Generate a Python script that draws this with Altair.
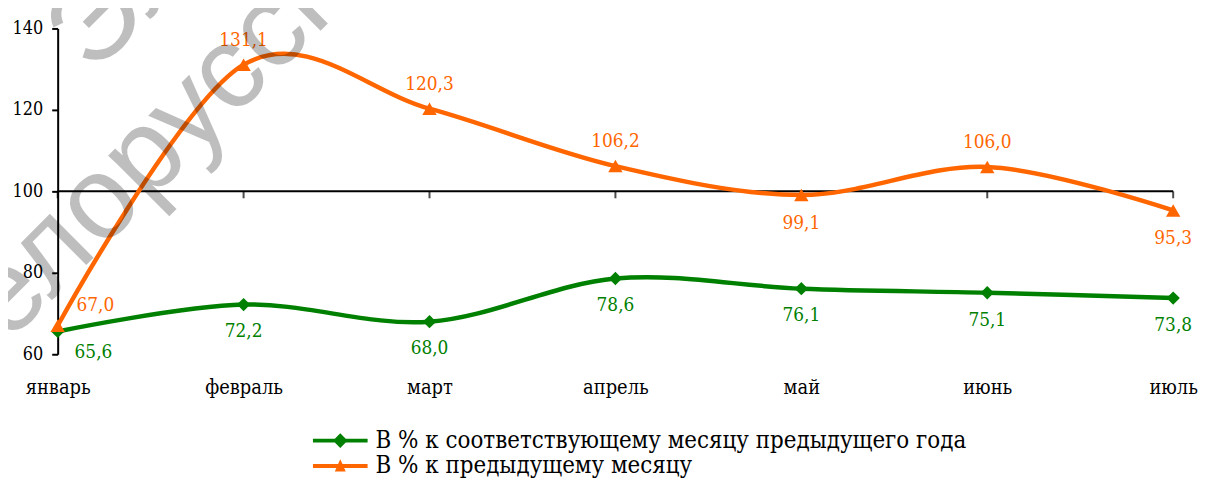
import altair as alt
import pandas as pd

months = ["январь", "февраль", "март", "апрель", "май", "июнь", "июль"]
yoy_values = [65.6, 72.2, 68.0, 78.6, 76.1, 75.1, 73.8]
mom_values = [67.0, 131.1, 120.3, 106.2, 99.1, 106.0, 95.3]
y_ticks = [60, 80, 100, 120, 140]
series_yoy = "В % к соответствующему месяцу предыдущего года"
series_mom = "В % к предыдущему месяцу"

GREEN = "#008000"
ORANGE = "#FF6600"
FONT = "DejaVu Serif Condensed, DejaVu Serif"


def fmt(v):
    return f"{v:.1f}".replace(".", ",")


df_yoy = pd.DataFrame({"month": months, "value": yoy_values,
                       "label": [fmt(v) for v in yoy_values]})
df_mom = pd.DataFrame({"month": months, "value": mom_values,
                       "label": [fmt(v) for v in mom_values]})
df_one = pd.DataFrame({"k": [0]})

x_scale = alt.Scale(type="point", domain=months, padding=0)
y_scale = alt.Scale(domain=[60, 140], nice=False, zero=False)

x_enc = alt.X("month:N", sort=months, scale=x_scale,
              axis=alt.Axis(title=None, labelAngle=0, labelAlign="center",
                            domain=False, ticks=False,
                            tickSize=0, labelPadding=34, labelFont=FONT,
                            labelFontSize=20, labelColor="black", grid=False))
y_enc = alt.Y("value:Q", scale=y_scale,
              axis=alt.Axis(values=y_ticks, title=None, grid=False,
                            domainColor="black", domainWidth=2,
                            tickColor="black", tickWidth=2, tickSize=6,
                            labelPadding=9, labelFont=FONT, labelFontSize=18,
                            labelColor="black"))


def base(df):
    return alt.Chart(df).encode(x=x_enc, y=y_enc)


rule100 = alt.Chart(df_one).mark_rule(color="black", strokeWidth=2).encode(
    y=alt.datum(100))
ticks100 = alt.Chart(df_yoy).mark_tick(
    orient="vertical", color="black", size=7, thickness=2, yOffset=3.5
).encode(x=alt.X("month:N", sort=months, scale=x_scale), y=alt.datum(100))

line_yoy = base(df_yoy).mark_line(interpolate="cardinal", color=GREEN, strokeWidth=4.5)
pts_yoy = base(df_yoy).mark_point(shape="diamond", filled=True, size=180,
                                  color=GREEN, opacity=1)
line_mom = base(df_mom).mark_line(interpolate="cardinal", color=ORANGE, strokeWidth=4.5)
pts_mom = base(df_mom).mark_point(shape="triangle-up", filled=True, size=210,
                                  color=ORANGE, opacity=1)


def labels(df, color, sel, dx, dy):
    return base(df).transform_filter(
        alt.FieldOneOfPredicate(field="month", oneOf=sel)
    ).mark_text(font=FONT, fontSize=19, color=color, dx=dx, dy=dy,
                baseline="middle").encode(text="label:N")


lab_yoy_first = labels(df_yoy, GREEN, ["январь"], 36, 21)
lab_yoy_rest = labels(df_yoy, GREEN, months[1:], 0, 27)
lab_mom_first = labels(df_mom, ORANGE, ["январь"], 38, -21)
lab_mom_above = labels(df_mom, ORANGE, ["февраль", "март", "апрель", "июнь"], 0, -25)
lab_mom_below = labels(df_mom, ORANGE, ["май", "июль"], 0, 28)

path_yoy = ("M-1,-0.07L-0.2,-0.07L0,-0.27L0.2,-0.07L1,-0.07L1,0.07"
            "L0.2,0.07L0,0.27L-0.2,0.07L-1,0.07Z")
path_mom = ("M-1,-0.07L-0.08,-0.07L0,-0.25L0.08,-0.07L1,-0.07L1,0.07"
            "L0.142,0.07L0.2,0.2L-0.2,0.2L-0.142,0.07L-1,0.07Z")


def legend_layer(df, name, color, path, ly):
    leg = alt.Legend(title=None, orient="none", legendX=257, legendY=ly,
                     labelFont=FONT, labelFontSize=24, labelColor="black",
                     labelOffset=8, labelLimit=0, symbolSize=3025,
                     symbolStrokeWidth=0, symbolOpacity=1, padding=0)
    return alt.Chart(df).transform_filter("false").mark_point(
        filled=True, size=3025).encode(
        x=alt.X("month:N", sort=months, scale=x_scale),
        y=alt.Y("value:Q", scale=y_scale),
        color=alt.Color("s:N", scale=alt.Scale(domain=[name], range=[color]), legend=leg),
        shape=alt.Shape("s:N", scale=alt.Scale(domain=[name], range=[path]), legend=leg),
    ).transform_calculate(s=f"'{name}'")


leg_yoy = legend_layer(df_yoy, series_yoy, GREEN, path_yoy, 387.5)
leg_mom = legend_layer(df_mom, series_mom, ORANGE, path_mom, 413)

wm_style = dict(font="Liberation Sans", fontSize=118,
                color="black", opacity=0.25, angle=315, align="left",
                baseline="alphabetic")
watermark = alt.Chart(df_one).mark_text(**wm_style).encode(
    x=alt.value(-105), y=alt.value(372), text=alt.value("Белорусского"))
watermark2 = alt.Chart(df_one).mark_text(**wm_style).encode(
    x=alt.value(35), y=alt.value(48), text=alt.value("Электронный"))

chart = alt.layer(
    rule100, ticks100,
    line_yoy, pts_yoy, line_mom, pts_mom,
    lab_yoy_first, lab_yoy_rest, lab_mom_first, lab_mom_above, lab_mom_below,
    leg_yoy, leg_mom, watermark, watermark2
).resolve_scale(color="independent", shape="independent").properties(
    width=1123, height=328,
    autosize=alt.AutoSizeParams(type="none"),
    padding={"left": 50, "top": 19, "right": 27, "bottom": 123},
).configure_view(stroke=None)

chart.save("out.html", embed_options={"renderer": "svg", "actions": False})
